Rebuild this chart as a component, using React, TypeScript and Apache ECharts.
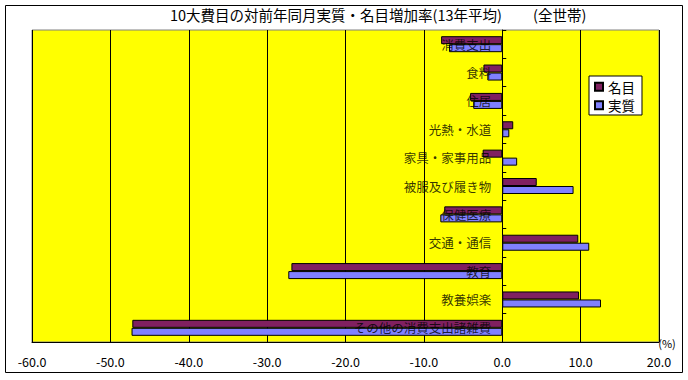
import React, { useEffect, useRef } from "react";
import * as echarts from "echarts";

const categories = [
  "消費支出",
  "食料",
  "住居",
  "光熱・水道",
  "家具・家事用品",
  "被服及び履き物",
  "保健医療",
  "交通・通信",
  "教育",
  "教養娯楽",
  "その他の消費支出諸雑費",
];
const nominal = [-7.8, -2.4, -4.1, 1.4, -2.5, 4.4, -7.4, 9.7, -26.9, 9.8, -47.2];
const real = [-6.8, -1.9, -3.7, 0.9, 1.9, 9.1, -7.9, 11.1, -27.3, 12.6, -47.3];
const seriesNames = ["名目", "実質"];
const titleText = "10大費目の対前年同月実質・名目増加率(13年平均)";
const subTitleText = "(全世帯)";
const unitText = "(%)";

const FONT = "'Noto Sans CJK JP', sans-serif";

export default function App() {
  const ref = useRef<HTMLDivElement>(null);
  useEffect(() => {
    if (!ref.current) return;
    const chart = echarts.init(ref.current, undefined, { renderer: "svg" });
    chart.setOption({
      animation: false,
      backgroundColor: "#ffffff",
      textStyle: { fontFamily: FONT },
      title: [
        {
          text: titleText,
          left: 170,
          top: 7,
          padding: 0,
          textStyle: { fontSize: 14.5, fontWeight: "normal", color: "#000", fontFamily: FONT },
        },
        {
          text: subTitleText,
          left: 533,
          top: 7,
          padding: 0,
          textStyle: { fontSize: 14.5, fontWeight: "normal", color: "#000", fontFamily: FONT },
        },
      ],
      legend: {
        orient: "vertical",
        left: 589,
        top: 76,
        backgroundColor: "#ffffff",
        borderColor: "#000",
        borderWidth: 1,
        borderRadius: 0,
        padding: [4, 7, 3, 5],
        itemGap: 5,
        itemWidth: 8,
        itemHeight: 8,
        itemTextGap: 6,
        icon: "rect",
        textStyle: { fontSize: 13.5, color: "#000", fontFamily: FONT },
        data: seriesNames,
      },
      grid: {
        left: 32,
        right: 29,
        top: 30,
        bottom: 38,
        show: true,
        outerBoundsMode: "none",
        containLabel: false,
        backgroundColor: "#ffff00",
        borderColor: "#808080",
        borderWidth: 1,
      },
      xAxis: {
        type: "value",
        min: -60,
        max: 20,
        interval: 10,
        axisLine: { show: true, lineStyle: { color: "#000" } },
        axisTick: { show: false },
        splitLine: { show: true, lineStyle: { color: "#000", width: 1 } },
        axisLabel: {
          color: "#000",
          fontSize: 12.5,
          margin: 13,
          fontFamily: FONT,
          formatter: (v: number) => v.toFixed(1),
        },
      },
      yAxis: {
        type: "category",
        data: categories,
        inverse: true,
        axisLine: { show: true, onZero: true, lineStyle: { color: "#000" } },
        axisTick: { show: true, inside: true, length: 4, lineStyle: { color: "#000" } },
        axisLabel: { show: false },
        splitLine: { show: false },
      },
      series: [
        {
          name: seriesNames[0],
          type: "bar",
          data: nominal,
          barWidth: 8,
          barGap: "0%",
          itemStyle: { color: "#802060", borderColor: "#000", borderWidth: 1 },
          z: 1,
        },
        {
          name: seriesNames[1],
          type: "bar",
          data: real,
          barWidth: 8,
          barGap: "0%",
          itemStyle: { color: "#8080ff", borderColor: "#000", borderWidth: 1 },
          z: 1,
        },
        {
          name: "labels",
          type: "scatter",
          data: categories.map((c) => [0, c]),
          symbolSize: 0,
          silent: true,
          z: 10,
          label: {
            show: true,
            position: "left",
            distance: 11,
            color: "#000",
            fontSize: 12.5,
            fontFamily: FONT,
            formatter: (p: any) => p.value[1],
          },
        },
      ],
      graphic: [
        {
          type: "rect",
          shape: { x: 5.5, y: 5.5, width: 677, height: 367 },
          style: { fill: "none", stroke: "#000", lineWidth: 1 },
          silent: true,
        },
        {
          type: "text",
          x: 667,
          y: 343,
          style: {
            text: unitText,
            fontSize: 11,
            fill: "#000",
            fontFamily: FONT,
            textAlign: "center",
            textVerticalAlign: "middle",
          },
        },
      ],
    });
    return () => chart.dispose();
  }, []);
  return (
    <div
      ref={ref}
      style={{ position: "fixed", left: 0, top: 0, width: 688, height: 380 }}
    />
  );
}
